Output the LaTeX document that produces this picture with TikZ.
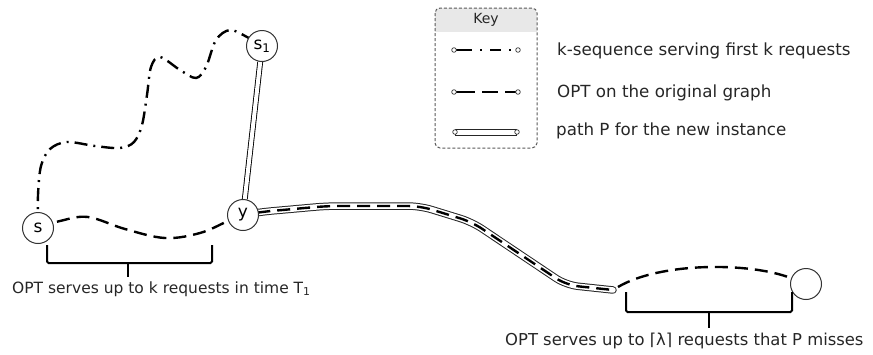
\documentclass[tikz,border=0pt]{standalone}
\usepackage{fontspec}
\setmainfont{DejaVu Sans}
\usetikzlibrary{backgrounds}
\begin{document}
\begin{tikzpicture}[x=1pt,y=-1pt,
  vertex/.style={circle, draw=black!80, line width=1pt, fill=white,
    minimum size=31pt, inner sep=0pt, font=\fontsize{17}{17}\selectfont},
  optline/.style={line width=2.4pt, dash pattern=on 13pt off 7pt},
  kseq/.style={line width=2.4pt, dash pattern=on 13pt off 6pt on 2pt off 6pt},
  pathP/.style={line width=0.9pt, double=white, double distance=4pt},
  bracestroke/.style={line width=2pt, rounded corners=1.5pt},
  lbl/.style={text=black!85, inner sep=0pt},
  keytext/.style={font=\fontsize{16.7}{19}\selectfont, text=black!85, inner sep=0pt, anchor=base west},
  endring/.style={draw=black!80, fill=white, line width=0.7pt},
]
\useasboundingbox (0,0) rectangle (873,354);

% vertices
\node[vertex] (s)  at (38,228)  {s};
\node[vertex] (y)  at (243,215) {y};
\node[vertex] (s1) at (262,46)  {s\textsubscript{1}};
\node[vertex] (t)  at (806,284) {};
\coordinate (pend) at (613,290);

\begin{pgfonlayer}{background}
  % k-sequence from s to s1
  \draw[kseq] plot[smooth, tension=0.55] coordinates {
    (s) (38,195) (41,166) (50,149) (67,142) (95,146) (120,148) (134,142)
    (142,125) (147,95) (151,67) (160,57) (180,70) (196,78) (206,67)
    (216,40) (230,30) (247,37) (s1)};
  % OPT from s to y
  \draw[optline] plot[smooth, tension=0.6] coordinates {
    (s) (60,221) (88,217) (125,229) (165,238) (200,233) (228,221) (y)};
  % path P from y up to s1
  \draw[pathP] (y) -- (s1);
  % path P from y to its far end, with OPT running inside it
  \draw[line width=7.5pt, black!85, rounded corners=12pt, line cap=round]
    (y) -- (260,212) -- (327,206) -- (420,206) -- (472,222) -- (566,285) -- (pend);
  \draw[line width=5.5pt, white, rounded corners=12pt, line cap=round]
    (y) -- (260,212) -- (327,206) -- (420,206) -- (472,222) -- (566,285) -- (pend);
  \draw[optline, rounded corners=12pt]
    (y) -- (260,212) -- (327,206) -- (420,206) -- (472,222) -- (566,285) -- (pend);
  % OPT from the end of P to the last vertex
  \draw[optline] ([xshift=5pt,yshift=3pt]pend) .. controls (660,262) and (750,262) .. (t);
\end{pgfonlayer}

% braces
\draw[bracestroke] (47,245) -- (47,263) -- (212,263) -- (212,245);
\draw[line width=2pt] (128,263) -- (128,277);
\draw[bracestroke] (626,292) -- (626,312) -- (792,312) -- (792,292);
\draw[line width=2pt] (709,312) -- (709,328);

\node[lbl, font=\fontsize{15.5}{18}\selectfont, anchor=base west] (lab1) at (12,293)
  {OPT serves up to k requests in time T\textsubscript{1}};
\node[lbl, font=\fontsize{16.4}{19}\selectfont, anchor=base west] (lab2) at (505,345)
  {OPT serves up to ⌈λ⌉ requests that P misses};

% key box
\begin{scope}
  \clip[rounded corners=5pt] (435,8) rectangle (537,148);
  \fill[black!9] (435,8) rectangle (537,32);
\end{scope}
\draw[black!65, line width=1pt, dash pattern=on 3pt off 2pt, rounded corners=5pt]
  (435,8) rectangle (537,148);
\node[font=\fontsize{14}{16}\selectfont, text=black!85] (keyhead) at (486,20) {Key};

% key entries
\draw[line width=2.4pt, dash pattern=on 17pt off 8pt on 2pt off 8pt on 11pt off 8pt on 2pt off 10pt]
  (455,50) -- (516,50);
\draw[endring] (454,50) circle (2.3pt);
\draw[endring] (518,50) circle (2.3pt);
\draw[line width=2.4pt, dash pattern=on 20pt off 7pt on 16pt off 7pt on 11pt off 10pt]
  (455,92) -- (516,92);
\draw[endring] (454,92) circle (2.3pt);
\draw[endring] (518,92) circle (2.3pt);
\draw[line width=0.9pt, black!85, fill=white] (455,129) rectangle (516,135.5);
\draw[endring] (455,132) circle (2.3pt);
\draw[endring] (517,132) circle (2.3pt);

\node[keytext] (k1) at (557,55)  {k-sequence serving first k requests};
\node[keytext] (k2) at (557,97)  {OPT on the original graph};
\node[keytext] (k3) at (556,135) {path P for the new instance};
\end{tikzpicture}
\end{document}
